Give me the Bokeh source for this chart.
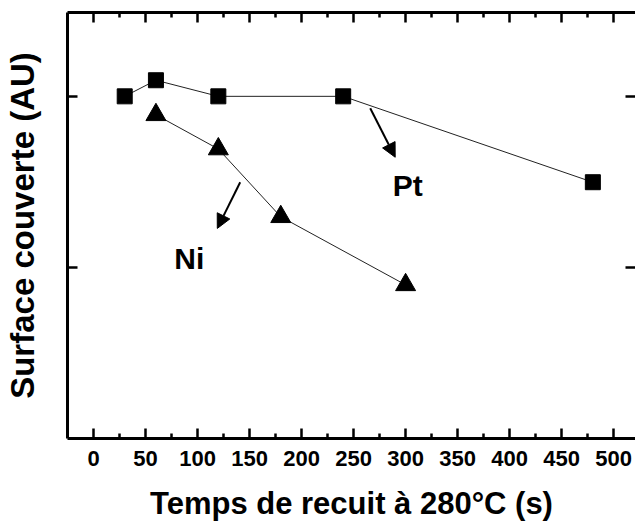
from bokeh.plotting import figure
from bokeh.models import Range1d, LinearAxis, FixedTicker, Label, Arrow, NormalHead
from bokeh.embed import file_html
from bokeh.resources import INLINE

# ---- data ----
pt_x = [30, 60, 120, 240, 480]
pt_y = [1.00, 1.047, 1.00, 1.00, 0.749]
ni_x = [60, 120, 180, 300]
ni_y = [0.946, 0.846, 0.648, 0.449]

x_ticks = [0, 50, 100, 150, 200, 250, 300, 350, 400, 450, 500]
x_minor = [25, 75, 125, 175, 225, 275, 325, 375, 425, 475]
y_ticks = [0.5, 1.0]

x_title = "Temps de recuit à 280°C (s)"
y_title = "Surface couverte (AU)"
series_labels = ["Pt", "Ni"]

# annotation placement (data coords)
pt_label_pos = (302, 0.74)
ni_label_pos = (92, 0.526)
pt_arrow = (266, 0.965, 290, 0.822)
ni_arrow = (141, 0.749, 119, 0.614)

FONT = "Liberation Sans"

p = figure(width=635, height=524, output_backend="svg", toolbar_location=None,
           x_range=Range1d(-25, 521), y_range=Range1d(0, 1.245),
           x_axis_location=None, y_axis_location=None,
           min_border_left=67, min_border_top=12, min_border_bottom=86, min_border_right=0)
p.outline_line_color = None
p.grid.visible = False
p.background_fill_color = "white"

def style_x(ax, labels):
    ax.ticker = FixedTicker(ticks=x_ticks, minor_ticks=x_minor)
    ax.axis_line_width = 3
    ax.axis_line_color = "black"
    ax.major_tick_in = 10
    ax.major_tick_out = 0
    ax.minor_tick_in = 5
    ax.minor_tick_out = 0
    ax.major_tick_line_width = 2.5
    ax.minor_tick_line_width = 2.5
    ax.major_tick_line_color = "black"
    ax.minor_tick_line_color = "black"
    if labels:
        ax.major_label_text_font = FONT
        ax.major_label_text_font_style = "bold"
        ax.major_label_text_font_size = "22px"
        ax.major_label_text_color = "black"
        ax.major_label_standoff = 12
    else:
        ax.major_label_overrides = {t: "" for t in x_ticks}
        ax.major_label_text_font_size = "0px"
        ax.major_label_standoff = 0

bottom = LinearAxis(axis_label=x_title)
style_x(bottom, True)
bottom.axis_label_text_font = FONT
bottom.axis_label_text_font_style = "bold"
bottom.axis_label_text_font_size = "31px"
bottom.axis_label_text_color = "black"
bottom.axis_label_standoff = 17
p.add_layout(bottom, "below")

top = LinearAxis()
style_x(top, False)
p.add_layout(top, "above")

def style_y(ax, line):
    ax.ticker = FixedTicker(ticks=y_ticks, minor_ticks=[])
    ax.axis_line_width = 3
    ax.axis_line_color = "black" if line else None
    ax.major_tick_in = 10
    ax.major_tick_out = 0
    ax.major_tick_line_width = 2.5
    ax.major_tick_line_color = "black"
    ax.minor_tick_in = 0
    ax.minor_tick_out = 0
    ax.major_label_overrides = {t: "" for t in y_ticks}
    ax.major_label_text_font_size = "0px"
    ax.major_label_standoff = 0

left = LinearAxis(axis_label=y_title)
style_y(left, True)
left.axis_label_text_font = FONT
left.axis_label_text_font_style = "bold"
left.axis_label_text_font_size = "33px"
left.axis_label_text_color = "black"
left.axis_label_standoff = 27
p.add_layout(left, "left")

right = LinearAxis()
style_y(right, False)
p.add_layout(right, "right")

# series
p.line(pt_x, pt_y, line_color="#222222", line_width=1)
p.scatter(pt_x, pt_y, marker="square", size=15, fill_color="black", line_color="black")
p.line(ni_x, ni_y, line_color="#222222", line_width=1)
p.scatter(ni_x, ni_y, marker="triangle", size=20, fill_color="black", line_color="black")

# labels
for txt, (lx, ly) in zip(series_labels, [pt_label_pos, ni_label_pos]):
    p.add_layout(Label(x=lx, y=ly, text=txt, text_font=FONT, text_font_style="bold",
                       text_font_size="30px", text_color="black",
                       text_align="center", text_baseline="middle",
                       background_fill_color="white"))

for (x0, y0, x1, y1) in [pt_arrow, ni_arrow]:
    p.add_layout(Arrow(x_start=x0, y_start=y0, x_end=x1, y_end=y1, line_width=2,
                       line_color="black",
                       end=NormalHead(size=14, fill_color="black", line_color="black")))

open("out.html", "w").write(file_html(p, INLINE))
